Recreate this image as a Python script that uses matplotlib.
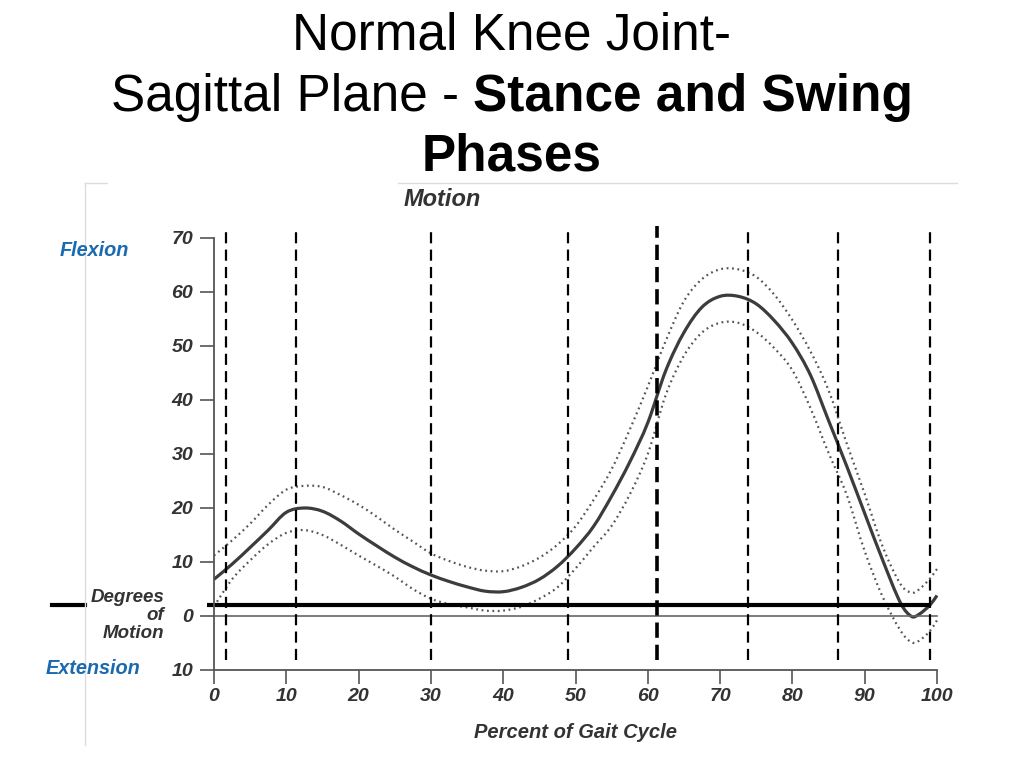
import matplotlib
matplotlib.use("Agg")
import matplotlib.pyplot as plt
from matplotlib.lines import Line2D
from matplotlib.path import Path
from matplotlib.patches import PathPatch

plt.rcParams['lines.scale_dashes'] = False
plt.rcParams['font.family'] = ['Liberation Sans', 'DejaVu Sans']

# ---------------- data ----------------
gait_pct = [0, 2.5, 5, 7.5, 10, 12.5, 15, 17.5, 20, 22.5, 25, 27.5, 30, 32.5, 35,
            37.5, 40, 42.5, 45, 47.5, 50, 52.5, 55, 57.5, 60, 62.5, 65, 67.5, 70,
            72.5, 75, 77.5, 80, 82.5, 85, 87.5, 90, 92.5, 95, 96.5, 97.5, 99, 100]
knee_mean = [6.8, 9.6, 12.7, 15.9, 19.2, 20.0, 19.4, 17.6, 15.2, 13.0, 10.9, 9.1, 7.6,
             6.4, 5.4, 4.6, 4.5, 5.3, 6.8, 9.2, 12.5, 16.6, 22.2, 28.5, 35.8, 45.5,
             52.5, 57.2, 59.2, 59.2, 57.8, 54.7, 50.5, 44.6, 36.2, 27.8, 19.0, 10.3,
             2.3, -0.1, 0.3, 2.0, 3.8]
knee_upper = [11.2, 14.0, 17.1, 20.6, 23.4, 24.1, 23.9, 22.4, 20.6, 18.4, 16.0, 13.8,
              11.6, 10.2, 9.1, 8.4, 8.3, 9.2, 10.8, 13.2, 16.6, 21.5, 27.2, 34.5, 42.5,
              51.0, 58.3, 62.4, 64.2, 64.2, 62.8, 59.5, 54.8, 49.0, 41.8, 32.0, 22.6,
              12.8, 5.8, 4.3, 4.9, 6.9, 8.7]
knee_lower = [1.8, 6.8, 10.3, 13.3, 15.4, 15.9, 15.0, 13.2, 11.2, 9.3, 7.3, 5.0, 3.2,
              2.2, 1.6, 1.0, 1.0, 1.7, 3.2, 5.3, 8.8, 12.8, 16.7, 22.5, 30.0, 41.0,
              48.2, 52.5, 54.3, 54.3, 52.6, 49.6, 45.5, 38.5, 30.2, 22.5, 12.0, 3.5,
              -2.8, -4.9, -4.6, -2.8, -0.8]
phase_lines = [1.7, 11.3, 30.0, 49.0, 61.3, 73.9, 86.3, 99.0]
toe_off = 61.3
reference_level = 2.0
reference_span = [-1.0, 99.0]
x_ticks = [0, 10, 20, 30, 40, 50, 60, 70, 80, 90, 100]
y_ticks = [70, 60, 50, 40, 30, 20, 10, 0, -10]
y_tick_labels = ['70', '60', '50', '40', '30', '20', '10', '0', '10']

# ---------------- figure ----------------
W, H = 1024, 768
fig = plt.figure(figsize=(W / 100, H / 100), dpi=100)


def fx(x):
    return x / W


def fy(y):
    return 1 - y / H


def smooth_path(xs, ys):
    """Cubic Bezier path passing through the data points (curve smoothing only)."""
    n = len(xs)
    verts = [(xs[0], ys[0])]
    codes = [Path.MOVETO]
    for i in range(n - 1):
        x0, y0 = (xs[i - 1], ys[i - 1]) if i > 0 else (xs[i], ys[i])
        x1, y1 = xs[i], ys[i]
        x2, y2 = xs[i + 1], ys[i + 1]
        x3, y3 = (xs[i + 2], ys[i + 2]) if i + 2 < n else (xs[i + 1], ys[i + 1])
        h = x2 - x1
        m1 = (y2 - y0) / (x2 - x0) if x2 != x0 else 0
        m2 = (y3 - y1) / (x3 - x1) if x3 != x1 else 0
        verts += [(x1 + h / 3, y1 + m1 * h / 3), (x2 - h / 3, y2 - m2 * h / 3), (x2, y2)]
        codes += [Path.CURVE4] * 3
    return Path(verts, codes)


px_per_deg = 5.4
ax_left, ax_bottom_px, ax_right = 214, 670, 937
ymin, ymax = -10, 73
ax_h = (ymax - ymin) * px_per_deg
ax = fig.add_axes([fx(ax_left), (H - ax_bottom_px) / H, (ax_right - ax_left) / W, ax_h / H])
ax.set_xlim(0, 100)
ax.set_ylim(ymin, ymax)

ink = '#333333'
for s in ['top', 'right']:
    ax.spines[s].set_visible(False)
ax.spines['left'].set_bounds(-10, 70)
ax.spines['bottom'].set_bounds(0, 100)
for s in ['left', 'bottom']:
    ax.spines[s].set_color('#555555')
    ax.spines[s].set_linewidth(1.3)

tick_font = dict(fontsize=14, fontweight='bold', fontstyle='italic', color=ink)
ax.set_xticks(x_ticks)
ax.set_xticklabels([str(t) for t in x_ticks], **tick_font)
ax.set_yticks(y_ticks)
ax.set_yticklabels(y_tick_labels, **tick_font)
ax.tick_params(axis='both', direction='out', length=10, width=1.2, color='#555555')
ax.tick_params(axis='x', pad=3)
ax.tick_params(axis='y', pad=5)
ax.set_xlabel('Percent of Gait Cycle', fontsize=14.5, fontweight='bold',
              fontstyle='italic', color=ink, labelpad=13)

# zero line
ax.plot([0, 100], [0, 0], color='#666666', lw=1.2, clip_on=False)

# phase dividers
for p in phase_lines:
    if p == toe_off:
        ax.plot([p, p], [-8.2, 72.2], color='black', lw=2.6,
                linestyle=(0, (11, 5)), clip_on=False)
    else:
        ax.plot([p, p], [-8.2, 72.2], color='black', lw=1.6,
                linestyle=(0, (8, 4.5)), clip_on=False)

# curves
for ys in (knee_upper, knee_lower):
    ax.add_patch(PathPatch(smooth_path(gait_pct, ys), fill=False, edgecolor='#555555',
                           lw=1.6, linestyle=(0, (1.3, 2.6)), clip_on=False))
ax.add_patch(PathPatch(smooth_path(gait_pct, knee_mean), fill=False, edgecolor='#3c3c3c',
                       lw=2.3, clip_on=False, capstyle='butt'))

# reference thick line
ax.plot(reference_span, [reference_level, reference_level], color='black', lw=3,
        clip_on=False, solid_capstyle='butt')
fig.add_artist(Line2D([fx(52), fx(85)], [fy(605), fy(605)], color='black', lw=3))

# faint frame of inset picture
frame_c = '#dcdcdc'
fig.add_artist(Line2D([fx(398), fx(957)], [fy(183), fy(183)], color=frame_c, lw=1))
fig.add_artist(Line2D([fx(85), fx(107)], [fy(183), fy(183)], color=frame_c, lw=1))
fig.add_artist(Line2D([fx(85), fx(85)], [fy(183), fy(745)], color=frame_c, lw=1))

# side labels
blue = '#1a6ab0'
lab = dict(fontsize=14.3, fontweight='bold', fontstyle='italic')
fig.text(fx(60), fy(250), 'Flexion', color=blue, ha='left', va='center', **lab)
fig.text(fx(46), fy(668), 'Extension', color=blue, ha='left', va='center', **lab)
lab2 = dict(fontsize=13.5, fontweight='bold', fontstyle='italic')
fig.text(fx(164), fy(597), 'Degrees', color=ink, ha='right', va='center', **lab2)
fig.text(fx(164), fy(615), 'of', color=ink, ha='right', va='center', **lab2)
fig.text(fx(164), fy(633), 'Motion', color=ink, ha='right', va='center', **lab2)
fig.text(fx(404), fy(199), 'Motion', color=ink, ha='left', va='center',
         fontsize=17, fontweight='bold', fontstyle='italic')

# title
tfam = ['Liberation Sans', 'DejaVu Sans']
tsize = 37
fig.text(0.5, fy(36), 'Normal Knee Joint-', ha='center', va='center',
         fontsize=tsize, family=tfam)
renderer = fig.canvas.get_renderer()
t1 = fig.text(0, fy(98), 'Sagittal Plane - ', ha='left', va='center',
              fontsize=tsize, family=tfam)
t2 = fig.text(0, fy(98), 'Stance and Swing', ha='left', va='center',
              fontsize=tsize, family=tfam, fontweight='bold')
w1 = t1.get_window_extent(renderer).width
w2 = t2.get_window_extent(renderer).width
start = (W - (w1 + w2)) / 2
t1.set_x(start / W)
t2.set_x((start + w1) / W)
fig.text(0.5, fy(157), 'Phases', ha='center', va='center', fontsize=tsize,
         family=tfam, fontweight='bold')

fig.savefig('out.png', dpi=100)
